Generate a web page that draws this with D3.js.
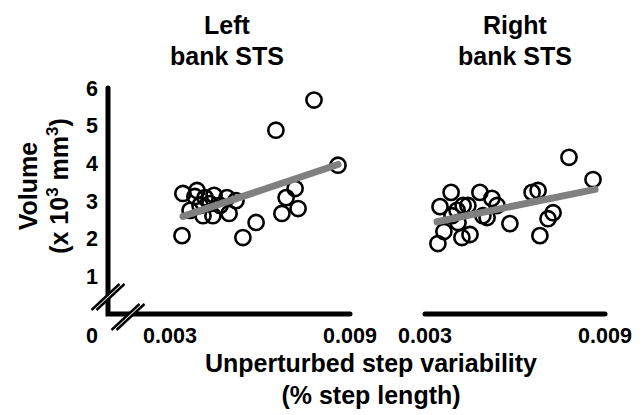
<!DOCTYPE html>
<html>
<head>
<meta charset="utf-8">
<script src="https://cdn.jsdelivr.net/npm/d3@7"></script>
<style>
  html, body { margin: 0; padding: 0; background: #fff; }
  svg text { font-family: "Liberation Sans", Arial, sans-serif; font-weight: bold; fill: #000; }
</style>
</head>
<body>
<svg id="chart" width="644" height="415"></svg>
<script>
// ---- data ----
const panelTitles = [["Left", "bank STS"], ["Right", "bank STS"]];
const yTickValues = [1, 2, 3, 4, 5, 6];
const xTickValues = [0.003, 0.009];
const xTickLabels = ["0.003", "0.009"];

const leftX = [0.0078, 0.00653, 0.0086, 0.00343, 0.0039, 0.00383, 0.00417, 0.00447, 0.0049, 0.0052,
               0.00367, 0.0041, 0.00443, 0.00497, 0.0034, 0.00587, 0.00543, 0.00717, 0.00687, 0.00673,
               0.00727, 0.0040, 0.00433, 0.00467];
const leftY = [5.68, 4.88, 3.95, 3.20, 3.28, 3.12, 3.09, 3.15, 3.09, 3.01,
               2.75, 2.61, 2.61, 2.67, 2.08, 2.43, 2.03, 3.33, 3.09, 2.67,
               2.80, 2.88, 2.93, 2.88];
const rightX = [0.0078, 0.0086, 0.0035, 0.00387, 0.00483, 0.0054, 0.00583, 0.00657, 0.00677, 0.00727,
                0.0071, 0.00683, 0.00343, 0.00363, 0.00423, 0.0045, 0.00407, 0.00443, 0.00507, 0.0041,
                0.00523, 0.00493, 0.00427, 0.0039];
const rightY = [4.16, 3.57, 2.85, 3.23, 3.23, 2.88, 2.40, 3.23, 3.28, 2.69,
                2.53, 2.08, 1.87, 2.19, 2.03, 2.11, 2.75, 2.88, 2.56, 2.43,
                3.07, 2.61, 2.88, 2.61];
const leftFitX = [0.00343, 0.0086];
const leftFitY = [2.59, 3.97];
const rightFitX = [0.0034, 0.00867];
const rightFitY = [2.45, 3.31];

// ---- layout ----
const svg = d3.select("#chart");
const axisY = 314;
const y = d3.scaleLinear().domain([0, 6]).range([axisY, 88]);
const panels = [
  { xs: leftX, ys: leftY, fx: leftFitX, fy: leftFitY, x0: 170, x1: 350, title: panelTitles[0], tcx: 227 },
  { xs: rightX, ys: rightY, fx: rightFitX, fy: rightFitY, x0: 425, x1: 605, title: panelTitles[1], tcx: 515 }
];
const yAxisX = 108;

// y axis line + left x axis (L shape)
const leftScale = d3.scaleLinear().domain([0.003, 0.009]).range([panels[0].x0, panels[0].x1]);
svg.append("path")
  .attr("d", `M${yAxisX},${y(6)} L${yAxisX},${axisY} L${leftScale(0.009)},${axisY}`)
  .attr("fill", "none").attr("stroke", "#000").attr("stroke-width", 5)
  .attr("stroke-linecap", "round").attr("stroke-linejoin", "miter");

// axis breaks
function brk(cx, cy) {
  const dx = 14, dy = -13, gap = 5;
  const g = svg.append("g");
  const p = [[cx - dx - gap / 2, cy - dy], [cx + dx - gap / 2, cy + dy], [cx + dx + gap / 2, cy + dy], [cx - dx + gap / 2, cy - dy]];
  g.append("polygon").attr("points", p.map(d => d.join(",")).join(" ")).attr("fill", "#fff");
  [-gap / 2, gap / 2].forEach(o => {
    g.append("line")
      .attr("x1", cx - dx + o).attr("y1", cy - dy)
      .attr("x2", cx + dx + o).attr("y2", cy + dy)
      .attr("stroke", "#000").attr("stroke-width", 2.4);
  });
}
brk(yAxisX, 297);
brk(128, axisY + 3);

// y ticks labels
svg.append("g").selectAll("text").data(yTickValues).join("text")
  .attr("x", 92).attr("y", d => y(d)).attr("dy", "0.36em")
  .attr("text-anchor", "middle").style("font-size", "21.5px").text(d => d);
svg.append("text").attr("x", 92).attr("y", 343).attr("text-anchor", "middle")
  .style("font-size", "21.5px").text("0");

panels.forEach((p, i) => {
  const x = d3.scaleLinear().domain([0.003, 0.009]).range([p.x0, p.x1]);
  if (i === 1) {
    svg.append("line").attr("x1", x(0.003)).attr("x2", x(0.009)).attr("y1", axisY).attr("y2", axisY)
      .attr("stroke", "#000").attr("stroke-width", 5).attr("stroke-linecap", "round");
  }
  svg.append("g").selectAll("text").data(xTickValues).join("text")
    .attr("x", d => x(d)).attr("y", 343).attr("text-anchor", "middle")
    .style("font-size", "21.5px").text((d, j) => xTickLabels[j]);

  const pts = p.xs.map((v, j) => [v, p.ys[j]]);
  svg.append("g").selectAll("circle").data(pts).join("circle")
    .attr("cx", d => x(d[0])).attr("cy", d => y(d[1])).attr("r", 7.6)
    .attr("fill", "none").attr("stroke", "#000").attr("stroke-width", 2.6);

  svg.append("line")
    .attr("x1", x(p.fx[0])).attr("y1", y(p.fy[0]))
    .attr("x2", x(p.fx[1])).attr("y2", y(p.fy[1]))
    .attr("stroke", "#808080").attr("stroke-width", 7).attr("stroke-linecap", "round");

  const t = svg.append("text").attr("text-anchor", "middle").style("font-size", "25px");
  t.append("tspan").attr("x", p.tcx).attr("y", 34).text(p.title[0]);
  t.append("tspan").attr("x", p.tcx).attr("y", 65).text(p.title[1]);
});

// y title
const yt = svg.append("g").attr("transform", "translate(0,186) rotate(-90)");
yt.append("text").attr("x", 0).attr("y", 37).attr("text-anchor", "middle").style("font-size", "25px").text("Volume");
const yt2 = yt.append("text").attr("x", 0).attr("y", 68).attr("text-anchor", "middle").style("font-size", "25px");
yt2.append("tspan").text("(x 10");
yt2.append("tspan").attr("dy", -10).style("font-size", "17px").text("3");
yt2.append("tspan").attr("dy", 10).text(" mm");
yt2.append("tspan").attr("dy", -10).style("font-size", "17px").text("3");
yt2.append("tspan").attr("dy", 10).text(")");

// x title
const xt = svg.append("text").attr("text-anchor", "middle").style("font-size", "25px");
xt.append("tspan").attr("x", 371).attr("y", 372).text("Unperturbed step variability");
xt.append("tspan").attr("x", 371).attr("y", 404).text("(% step length)");
</script>
</body>
</html>
